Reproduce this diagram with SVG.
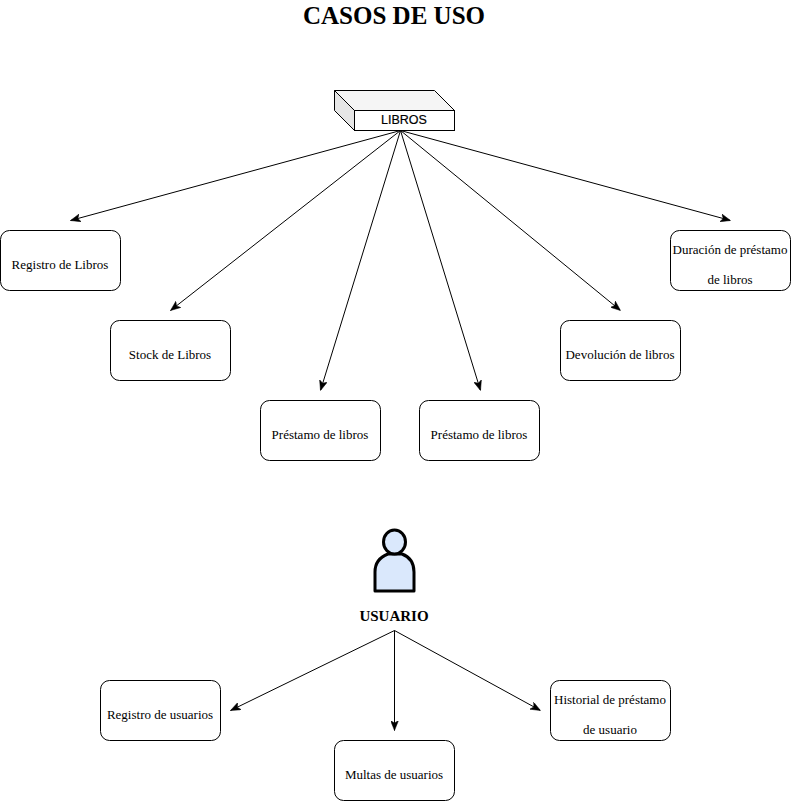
<svg xmlns="http://www.w3.org/2000/svg" width="791" height="801" viewBox="0 0 791 801">
<style>
text{font-family:"Liberation Serif","Times New Roman",serif;font-size:13px;fill:#000;text-anchor:middle}
.b{fill:#fff;stroke:#000;stroke-width:1}
.c{fill:none;stroke:#000;stroke-width:1;marker-end:url(#a)}
</style>
<defs><marker id="a" viewBox="0 0 10 8" refX="10" refY="4" markerWidth="10" markerHeight="8" markerUnits="userSpaceOnUse" orient="auto"><path d="M0 0L10 4L0 8L2.500 4Z" fill="#000" stroke="#000" stroke-width=".5"/></marker></defs>
<rect width="791" height="801" fill="#fff"/>
<text id="title" x="394" y="24" style="font-size:25px;font-weight:bold">CASOS DE USO</text>
<g id="connectors">
<path class="c" d="M400.500 130.500L70.500 220.500"/>
<path class="c" d="M400.500 130.500L170.500 310.500"/>
<path class="c" d="M400.500 130.500L320.500 390.500"/>
<path class="c" d="M400.500 130.500L480.500 390.500"/>
<path class="c" d="M400.500 130.500L620.500 310.500"/>
<path class="c" d="M400.500 130.500L730.500 220.500"/>
<path class="c" d="M394.500 630.500L230.500 710.500"/>
<path class="c" d="M394.500 630.500L394.500 730.500"/>
<path class="c" d="M394.500 630.500L540.500 710.500"/>
</g>
<g id="libros">
<path d="M334.500 90.500H434.500L454.500 110.500H354.500Z" fill="#f5f5f5" stroke="#000"/>
<path d="M334.500 90.500V110.500L354.500 130.500V110.500Z" fill="#e6e6e6" stroke="#000"/>
<rect class="b" x="354.500" y="110.500" width="100" height="20"/>
<text x="404" y="124" style="font-family:'Liberation Sans',Arial,sans-serif;font-size:12.500px;stroke:#000;stroke-width:.2">LIBROS</text>
</g>
<g id="n1"><rect class="b" x="0.500" y="230.500" width="120" height="60" rx="9"/><text x="60" y="269">Registro de Libros</text></g>
<g id="n2"><rect class="b" x="110.500" y="320.500" width="120" height="60" rx="9"/><text x="170" y="359">Stock de Libros</text></g>
<g id="n3"><rect class="b" x="260.500" y="400.500" width="120" height="60" rx="9"/><text x="320" y="439">Préstamo de libros</text></g>
<g id="n4"><rect class="b" x="419.500" y="400.500" width="120" height="60" rx="9"/><text x="479" y="439">Préstamo de libros</text></g>
<g id="n5"><rect class="b" x="560.500" y="320.500" width="120" height="60" rx="9"/><text x="620" y="359">Devolución de libros</text></g>
<g id="n6"><rect class="b" x="670.500" y="230.500" width="120" height="60" rx="9"/><text x="730" y="254">Duración de préstamo</text><text x="730" y="284">de libros</text></g>
<g id="usuario">
<path d="M375 591V572C375 563 380 557 388 554H402C410 557 414 563 414 572V591Z" fill="#dae8fc" stroke="#000" stroke-width="3" stroke-linejoin="round"/>
<ellipse cx="394.500" cy="542" rx="11" ry="12" fill="#dae8fc" stroke="#000" stroke-width="3"/>
<text x="394" y="621" style="font-size:15px;font-weight:bold">USUARIO</text>
</g>
<g id="n7"><rect class="b" x="100.500" y="680.500" width="120" height="60" rx="9"/><text x="160" y="719">Registro de usuarios</text></g>
<g id="n8"><rect class="b" x="334.500" y="740.500" width="120" height="60" rx="9"/><text x="394" y="779">Multas de usuarios</text></g>
<g id="n9"><rect class="b" x="550.500" y="680.500" width="120" height="60" rx="9"/><text x="610" y="704">Historial de préstamo</text><text x="610" y="734">de usuario</text></g>
</svg>
